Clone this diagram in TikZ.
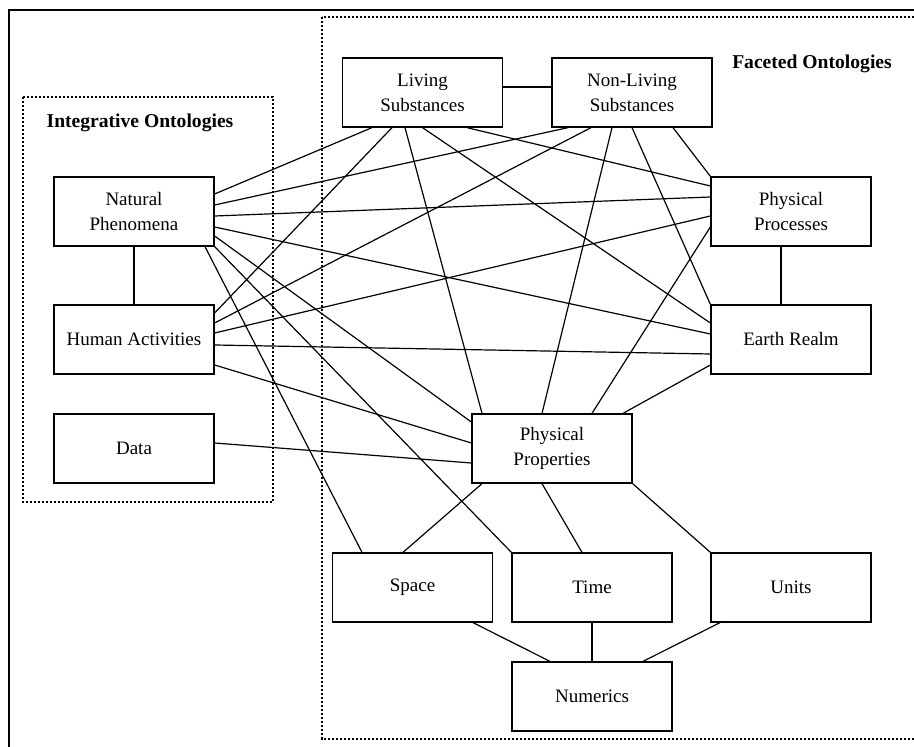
\documentclass[tikz,border=0pt]{standalone}
\usepackage{fontspec}
\setmainfont{Liberation Serif}
\usetikzlibrary{calc}

\tikzset{
  onto/.style={draw, line width=0.65pt, minimum width=80pt, minimum height=34.5pt,
    inner sep=1pt, align=center, font=\fontsize{9.5}{12.5}\selectfont},
  link/.style={black, line width=0.6pt},
  group/.style={line width=1.3pt, dash pattern=on 1.1pt off 0.9pt},
  grouplabel/.style={font=\fontsize{9.8}{12}\selectfont\bfseries}
}

\begin{document}
\begin{tikzpicture}[x=0.5pt, y=-0.5pt]
        \useasboundingbox (0,0) rectangle (914,747);
        \draw[line width=1pt] (9,10) rectangle (940,770);
        % the two groups
        \draw[group] (23,97) rectangle (273,502);
        \draw[group] (322,17) rectangle (940,739);
        \node[grouplabel] (intlab) at (140,123) {Integrative Ontologies};
        \node[grouplabel] (faclab) at (812,64) {Faceted Ontologies};
        % integrative
        \node[onto] (nat) at (134,211.5) {Natural\\Phenomena};
        \node[onto] (hum) at (134,339.5) {Human Activities};
        \node[onto] (data) at (134,448.5) {Data};
        % faceted
        \node[onto] (liv) at (422.5,92.5) {Living\\Substances};
        \node[onto] (nonliv) at (632,92.5) {Non-Living\\Substances};
        \node[onto] (proc) at (791,211.5) {Physical\\Processes};
        \node[onto] (earth) at (791,339.5) {Earth Realm};
        \node[onto] (prop) at (552,448.5) {Physical\\Properties};
        \node[onto] (space) at (412.5,587.5) {Space};
        \node[onto] (time) at (592,587.5) {Time};
        \node[onto] (units) at (791,587.5) {Units};
        \node[onto] (num) at (592,696.5) {Numerics};
        % Natural Phenomena
        \draw[link] ($(nat.east)+(0,-17.5)$) -- ($(liv.south)+(-50.5,0)$);
        \draw[link] ($(nat.east)+(0,-6.5)$) -- ($(nonliv.south)+(-64,0)$);
        \draw[link] ($(nat.east)+(0,4.5)$) -- ($(proc.west)+(0,-14.5)$);
        \draw[link] ($(nat.east)+(0,15.5)$) -- ($(earth.west)+(0,-5.5)$);
        \draw[link] ($(nat.east)+(0,24.5)$) -- ($(prop.west)+(0,-26.5)$);
        \draw[link] (nat.south east) -- (time.north west);
        \draw[link] ($(nat.south)+(71,0)$) -- ($(space.north)+(-50.5,0)$);
        \draw[link] (nat) -- (hum);
        % Human Activities
        \draw[link] ($(hum.east)+(0,-26.5)$) -- ($(liv.south)+(-30.5,0)$);
        \draw[link] ($(hum.east)+(0,-16.5)$) -- ($(nonliv.south)+(-41,0)$);
        \draw[link] ($(hum.east)+(0,-6.5)$) -- ($(proc.west)+(0,4.5)$);
        \draw[link] ($(hum.east)+(0,5.5)$) -- ($(earth.west)+(0,14.5)$);
        \draw[link] ($(hum.east)+(0,25.5)$) -- ($(prop.west)+(0,-5.5)$);
        % Data
        \draw[link] ($(data.east)+(0,-5.5)$) -- ($(prop.west)+(0,14.5)$);
        % substances
        \draw[link] ($(liv.east)+(0,-5.5)$) -- ($(nonliv.west)+(0,-5.5)$);
        \draw[link] ($(liv.south)+(-17.5,0)$) -- ($(prop.north)+(-70,0)$);
        \draw[link] (liv.south) -- ($(earth.west)+(0,-16.5)$);
        \draw[link] ($(liv.south)+(44.5,0)$) -- ($(proc.west)+(0,-25.5)$);
        \draw[link] ($(nonliv.south)+(-20,0)$) -- ($(prop.north)+(-10,0)$);
        \draw[link] (nonliv.south) -- (earth.north west);
        \draw[link] ($(nonliv.south)+(41,0)$) -- (proc.north west);
        % processes, realm, properties
        \draw[link] ($(proc.south)+(-10,0)$) -- ($(earth.north)+(-10,0)$);
        \draw[link] ($(proc.west)+(0,15.5)$) -- ($(prop.north)+(40,0)$);
        \draw[link] ($(earth.west)+(0,25.5)$) -- ($(prop.north)+(71,0)$);
        \draw[link] ($(prop.south)+(-70,0)$) -- ($(space.north)+(-9.5,0)$);
        \draw[link] ($(prop.south)+(-10,0)$) -- ($(time.north)+(-10,0)$);
        \draw[link] (prop.south east) -- (units.north west);
        % numerics
        \draw[link] ($(space.south)+(60.5,0)$) -- ($(num.north)+(-42,0)$);
        \draw[link] (time) -- (num);
        \draw[link] ($(units.south)+(-71,0)$) -- ($(num.north)+(51,0)$);
    \end{tikzpicture}
\end{document}
